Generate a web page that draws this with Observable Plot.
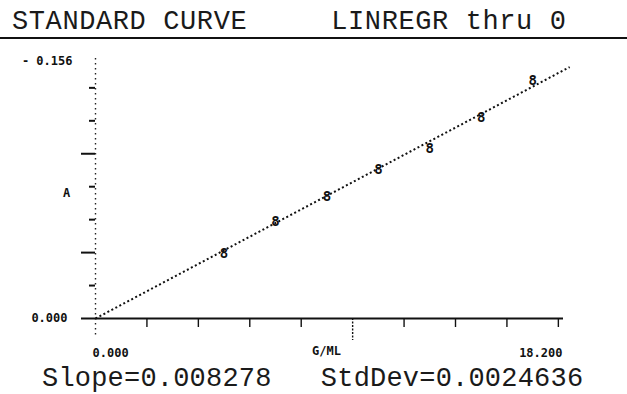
<!DOCTYPE html>
<html>
<head>
<meta charset="utf-8">
<script src="https://cdn.jsdelivr.net/npm/d3@7"></script>
<script src="https://cdn.jsdelivr.net/npm/@observablehq/plot@0.6"></script>
<style>
  html, body { margin: 0; padding: 0; background: #fff; }
  #wrap { position: relative; width: 627px; height: 394px; overflow: hidden; background: #fff; }
  #title {
    position: absolute; left: 0; top: 0; width: 627px; height: 39px;
    border-bottom: 2px solid #111; box-sizing: border-box;
  }
  #title span, #foot span {
    position: absolute; white-space: pre; font-family: "Liberation Mono", monospace;
    font-size: 27px; color: #1a1a1a; line-height: 1; transform-origin: left bottom;
  }
  #chart { position: absolute; left: 0; top: 40px; }
  #foot { position: absolute; left: 0; top: 366px; width: 627px; height: 28px; }
</style>
</head>
<body>
<div id="wrap">
  <div id="title"><span id="t1"></span></div>
  <div id="chart"></div>
  <div id="foot"><span id="f1"></span></div>
</div>
<script>
// ---- data ----
const titleLeft = "STANDARD CURVE";
const titleRight = "LINREGR thru 0";
const concentration = [5, 7, 9, 11, 13, 15, 17];
const absorbance = [0.0403, 0.0595, 0.0747, 0.0909, 0.1040, 0.1226, 0.1449];
const xDomain = [0, 18.2];
const yDomain = [0, 0.156];
const xTicks = [2, 4, 6, 8, 12, 14, 16, 18];
const xMidTick = [10];
const yTicksShort = [0.02, 0.06, 0.08, 0.12, 0.14];
const yTicksLong = [0, 0.04, 0.10];
const xLabel = "G/ML";
const yLabel = "A";
const slope = 0.008278;
const stdDev = 0.0024636;
const fitX = [0, 18.44];

// ---- texts ----
document.getElementById("t1").textContent = titleLeft + "     " + titleRight;
document.getElementById("f1").textContent =
  "Slope=" + slope.toFixed(6) + "   StdDev=" + stdDev.toFixed(7);
const t1 = document.getElementById("t1");
t1.style.left = "12px"; t1.style.top = "9px"; t1.style.letterSpacing = "0.6px";
const f1 = document.getElementById("f1");
f1.style.left = "42px"; f1.style.top = "0px"; f1.style.letterSpacing = "0.2px";

const points = concentration.map((c, i) => ({c, a: absorbance[i]}));
const fit = fitX.map(x => ({x, y: slope * x}));

const small = {fontFamily: "DejaVu Sans Mono", fontSize: 12, fontWeight: "bold", fill: "#111"};

const chart = Plot.plot({
  width: 627,
  height: 324,
  marginLeft: 95,
  marginRight: 64,
  marginTop: 21,
  marginBottom: 46,
  style: {background: "white", color: "#111", overflow: "visible"},
  x: {domain: xDomain, axis: null},
  y: {domain: yDomain, axis: null},
  marks: [
    // dotted vertical axis
    Plot.ruleX([xDomain[0]], {stroke: "#222", strokeWidth: 1.4, strokeDasharray: "1.5,3.5", insetTop: -3, insetBottom: -19}),
    // y ticks
    Plot.axisY({ticks: yTicksShort, tickSize: 6, tickFormat: () => "", strokeWidth: 2, label: null}),
    Plot.axisY({ticks: yTicksLong, tickSize: 14, tickFormat: () => "", strokeWidth: 2, label: null}),
    // x axis line and ticks
    Plot.ruleY([yDomain[0]], {x1: xDomain[0], x2: xDomain[1], stroke: "#111", strokeWidth: 2.2}),
    Plot.axisX({ticks: xTicks, tickSize: 9, tickFormat: () => "", strokeWidth: 1.4, label: null}),
    Plot.axisX({ticks: xMidTick, tickSize: 22, tickFormat: () => "", strokeWidth: 1.4, strokeDasharray: "2,1.5", label: null}),
    // regression line through zero
    Plot.line(fit, {x: "x", y: "y", stroke: "#111", strokeWidth: 2, strokeDasharray: "2,2.5", strokeLinecap: "butt"}),
    // standards
    Plot.text(points, {x: "c", y: "a", text: () => "8", ...small, fontSize: 14, dy: 1}),
    // y labels
    Plot.text([yDomain[1]], {y: d => d, frameAnchor: "left", text: d => "- " + d.toFixed(3), textAnchor: "end", dx: -23, ...small}),
    Plot.text([yDomain[0]], {y: d => d, frameAnchor: "left", text: d => d.toFixed(3), textAnchor: "end", dx: -28, ...small}),
    Plot.text([yLabel], {frameAnchor: "left", text: d => d, textAnchor: "middle", dx: -29, dy: 3, ...small}),
    // x labels
    Plot.text([xDomain[0]], {x: d => d, frameAnchor: "bottom", text: d => d.toFixed(3), textAnchor: "start", dx: -3, dy: 38, ...small}),
    Plot.text([xLabel], {frameAnchor: "bottom", text: d => d, textAnchor: "middle", dx: -3, dy: 36, ...small}),
    Plot.text([xDomain[1]], {x: d => d, frameAnchor: "bottom", text: d => d.toFixed(3), textAnchor: "end", dx: -1, dy: 38, ...small})
  ]
});
document.getElementById("chart").appendChild(chart);
</script>
</body>
</html>
